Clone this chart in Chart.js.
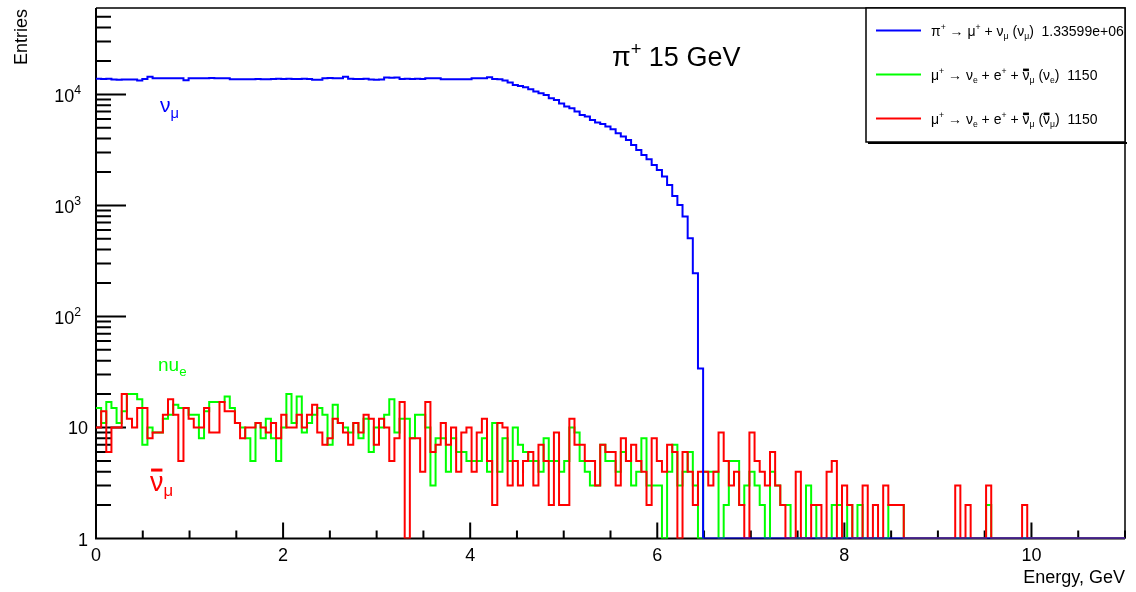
<!DOCTYPE html>
<html>
<head>
<meta charset="utf-8">
<script src="https://cdn.jsdelivr.net/npm/chart.js@4.4.0/dist/chart.umd.min.js"></script>
<style>
  html, body { margin: 0; padding: 0; background: #ffffff; }
  canvas { display: block; }
</style>
</head>
<body>
<canvas id="c" width="1136" height="592"></canvas>
<script>
// Neutrino energy spectra from pi+ (15 GeV) and mu+ decays, 200 bins over 0..11 GeV
const binWidth = 0.055;
const xRange = [0, 11];
const yRange = [1, 60000];

// pi+ -> mu+ + nu_mu : nu_mu entries per bin
const numuEntries = [
  13810, 13760, 13800, 13620, 13580, 13610, 13590, 13640, 13330, 13790,
  14430, 13990, 13960, 14010, 13970, 14000, 13950, 13420, 13980, 14010,
  13960, 13990, 14020, 13970, 13990, 13950, 13710, 13690, 13720, 13680,
  13700, 13730, 13690, 13710, 13780, 13800, 13770, 13810, 13790, 13760,
  13800, 13780, 13520, 13540, 13990, 14020, 13970, 14000, 14440, 13800,
  13780, 13790, 13810, 13600, 13580, 13620, 14180, 14150, 14170, 13790,
  13800, 13770, 13810, 13780, 13990, 13970, 14000, 13700, 13720, 13690,
  13710, 13680, 13700, 13990, 13970, 14000, 14300, 13790, 13704, 13312,
  12773, 12179, 11930, 11612, 11140, 10597, 10252, 9897, 9243, 8923,
  8300, 7763, 7510, 6998, 6535, 6310, 5893, 5570, 5424, 5129,
  4859, 4472, 4167, 3891, 3508, 3162, 2851, 2608, 2317, 2088,
  1818, 1530, 1218, 1010, 793, 506, 245, 34, 0, 0,
  0, 0, 0, 0, 0, 0, 0, 0, 0, 0,
  0, 0, 0, 0, 0, 0, 0, 0, 0, 0,
  0, 0, 0, 0, 0, 0, 0, 0, 0, 0,
  0, 0, 0, 0, 0, 0, 0, 0, 0, 0,
  0, 0, 0, 0, 0, 0, 0, 0, 0, 0,
  0, 0, 0, 0, 0, 0, 0, 0, 0, 0,
  0, 0, 0, 0, 0, 0, 0, 0, 0, 0,
  0, 0, 0, 0, 0, 0, 0, 0, 0, 0
];

// mu+ -> e+ + nu_e + anti-nu_mu : nu_e entries per bin
const nueEntries = [
  15, 11, 17, 15, 11, 14, 20, 20, 18, 7,
  10, 9, 9, 12, 13, 16, 15, 15, 13, 13,
  8, 14, 17, 17, 17, 19, 15, 11, 10, 8,
  5, 11, 8, 12, 8, 5, 10, 20, 11, 19,
  9, 11, 13, 15, 13, 7, 16, 11, 10, 9,
  11, 8, 12, 6, 10, 10, 13, 18, 9, 12,
  12, 8, 13, 13, 10, 3, 8, 8, 4, 8,
  6, 6, 5, 5, 5, 8, 4, 11, 4, 8,
  5, 10, 7, 6, 5, 5, 4, 8, 5, 5,
  4, 5, 10, 9, 5, 4, 3, 3, 7, 5,
  5, 4, 6, 5, 3, 4, 8, 3, 3, 3,
  0, 4, 7, 3, 4, 6, 3, 0, 4, 4,
  4, 0, 2, 5, 5, 2, 3, 4, 3, 2,
  0, 4, 3, 2, 2, 0, 0, 0, 3, 2,
  0, 0, 0, 2, 2, 0, 2, 0, 2, 0,
  0, 0, 0, 0, 2, 2, 2, 0, 0, 0,
  0, 0, 0, 0, 0, 0, 0, 0, 0, 0,
  0, 0, 0, 2, 0, 0, 0, 0, 0, 0,
  0, 0, 0, 0, 0, 0, 0, 0, 0, 0,
  0, 0, 0, 0, 0, 0, 0, 0, 0, 0
];

// mu+ -> e+ + nu_e + anti-nu_mu : anti-nu_mu entries per bin
const numubarEntries = [
  10, 14, 6, 10, 10, 20, 12, 10, 15, 15,
  8, 9, 9, 13, 18, 13, 5, 15, 12, 10,
  10, 15, 9, 9, 17, 14, 14, 11, 8, 10,
  10, 11, 10, 9, 11, 8, 13, 10, 10, 13,
  10, 13, 16, 9, 7, 8, 12, 11, 9, 7,
  11, 9, 13, 12, 7, 12, 10, 5, 8, 17,
  0, 8, 8, 4, 17, 6, 7, 11, 7, 10,
  4, 9, 10, 4, 9, 12, 5, 2, 11, 10,
  3, 5, 3, 5, 6, 3, 7, 5, 2, 9,
  2, 2, 12, 7, 7, 5, 5, 3, 7, 6,
  6, 3, 8, 5, 7, 5, 4, 2, 8, 5,
  4, 7, 6, 0, 6, 4, 2, 4, 4, 3,
  4, 9, 5, 3, 4, 2, 0, 9, 5, 4,
  3, 6, 3, 2, 0, 0, 4, 0, 0, 2,
  2, 0, 4, 5, 0, 3, 2, 0, 0, 3,
  0, 2, 0, 3, 2, 2, 2, 0, 0, 0,
  0, 0, 0, 0, 0, 0, 0, 3, 0, 2,
  0, 0, 0, 3, 0, 0, 0, 0, 0, 0,
  2, 0, 0, 0, 0, 0, 0, 0, 0, 0,
  0, 0, 0, 0, 0, 0, 0, 0, 0, 0
];

// axis ticks and labels
const xMajorTicks = [0, 2, 4, 6, 8, 10];
const xTickLabels = ['0', '2', '4', '6', '8', '10'];
const xMinorStep = 0.5;
const yMajorTicks = [1, 10, 100, 1000, 10000];
const yTickBase = ['1', '10', '10', '10', '10'];
const yTickExp = ['', '', '2', '3', '4'];

const seriesColors = { numu: '#0000ff', nue: '#00ff00', numubar: '#ff0000' };
const FONT = '"Liberation Sans", Arial, Helvetica, sans-serif';

// legend rows: rich-text pieces [text, mode]
const legendRows = [
  { color: seriesColors.numu, parts: [['π'], ['+', 'sup'], [' → μ'], ['+', 'sup'], [' + ν'], ['μ', 'sub'], [' (ν'], ['μ', 'sub'], [')  1.33599e+06']] },
  { color: seriesColors.nue, parts: [['μ'], ['+', 'sup'], [' → ν'], ['e', 'sub'], [' + e'], ['+', 'sup'], [' + '], ['ν', 'bar'], ['μ', 'sub'], [' (ν'], ['e', 'sub'], [')  1150']] },
  { color: seriesColors.numubar, parts: [['μ'], ['+', 'sup'], [' → ν'], ['e', 'sub'], [' + e'], ['+', 'sup'], [' + '], ['ν', 'bar'], ['μ', 'sub'], [' ('], ['ν', 'bar'], ['μ', 'sub'], [')  1150']] }
];

// histogram outline: each bin becomes a flat segment; empty bins sit on the axis floor
function histPoints(vals) {
  const pts = [];
  vals.forEach((v, i) => {
    const y = v > 0 ? v : yRange[0];
    pts.push({ x: xRange[0] + i * binWidth, y });
    pts.push({ x: xRange[0] + (i + 1) * binWidth, y });
  });
  return pts;
}

function richWidth(ctx, parts, size, small) {
  let w = 0;
  for (const [t, m] of parts) {
    const s = (m === 'sup' || m === 'sub') ? size * small : size;
    ctx.font = s + 'px ' + FONT;
    w += ctx.measureText(t).width;
  }
  return w;
}

function drawRich(ctx, parts, x, y, size, color, opts = {}) {
  const small = opts.small || 0.68;
  const align = opts.align || 'left';
  const w = richWidth(ctx, parts, size, small);
  let cx = align === 'right' ? x - w : align === 'center' ? x - w / 2 : x;
  ctx.fillStyle = color;
  ctx.strokeStyle = color;
  ctx.textAlign = 'left';
  ctx.textBaseline = 'alphabetic';
  for (const [t, m] of parts) {
    const isSmall = (m === 'sup' || m === 'sub');
    const s = isSmall ? size * small : size;
    ctx.font = s + 'px ' + FONT;
    const dy = m === 'sup' ? -size * (opts.supRise || 0.42) : m === 'sub' ? size * (opts.subDrop || 0.24) : 0;
    ctx.fillText(t, cx, y + dy);
    const tw = ctx.measureText(t).width;
    if (m === 'bar') {
      const by = y - s * (opts.barRise || 0.66);
      ctx.fillRect(cx + s * 0.04, by - (opts.barThick || 2), tw - s * 0.08, opts.barThick || 2);
    }
    cx += tw;
  }
}

const rootStyle = {
  id: 'rootStyle',
  beforeDatasetsDraw(chart) {
    const { ctx, chartArea: a, scales: { x, y } } = chart;
    ctx.save();
    ctx.strokeStyle = '#000';
    ctx.lineWidth = 2;
    ctx.beginPath();
    // x ticks point up from the bottom axis
    for (let v = xRange[0]; v <= xRange[1] + 1e-9; v += xMinorStep) {
      const px = x.getPixelForValue(v);
      const major = xMajorTicks.some(t => Math.abs(t - v) < 1e-9);
      ctx.moveTo(px, a.bottom);
      ctx.lineTo(px, a.bottom - (major ? 16 : 8));
    }
    // y ticks point right from the left axis (decades long, 2..9 short)
    yMajorTicks.forEach(d => {
      const py = y.getPixelForValue(d);
      if (d > yRange[0]) { ctx.moveTo(a.left, py); ctx.lineTo(a.left + 30, py); }
      for (let m = 2; m <= 9; m++) {
        const v = d * m;
        if (v >= yRange[1]) break;
        const pm = y.getPixelForValue(v);
        ctx.moveTo(a.left, pm);
        ctx.lineTo(a.left + 15, pm);
      }
    });
    ctx.stroke();
    // frame
    ctx.lineWidth = 2;
    ctx.beginPath();
    ctx.moveTo(a.left, a.top); ctx.lineTo(a.left, a.bottom); ctx.lineTo(a.right, a.bottom);
    ctx.stroke();
    ctx.lineWidth = 1.5;
    ctx.beginPath();
    ctx.moveTo(a.left, a.top); ctx.lineTo(a.right, a.top); ctx.lineTo(a.right, a.bottom);
    ctx.stroke();
    ctx.restore();
  },
  afterDraw(chart) {
    const { ctx, chartArea: a, scales: { x, y } } = chart;
    ctx.save();
    ctx.fillStyle = '#000';
    // x tick labels
    ctx.font = '18px ' + FONT;
    ctx.textAlign = 'center';
    ctx.textBaseline = 'alphabetic';
    xMajorTicks.forEach((v, i) => ctx.fillText(xTickLabels[i], x.getPixelForValue(v), 561));
    // y tick labels
    yMajorTicks.forEach((v, i) => {
      const py = y.getPixelForValue(v);
      if (yTickExp[i]) {
        drawRich(ctx, [[yTickBase[i]], [yTickExp[i], 'sup']], 81, py + 8, 18, '#000', { align: 'right', small: 0.68, supRise: 0.45 });
      } else {
        drawRich(ctx, [[yTickBase[i]]], 88, py + 7, 18, '#000', { align: 'right' });
      }
    });
    // axis titles
    ctx.fillStyle = '#000';
    ctx.font = '18px ' + FONT;
    ctx.textAlign = 'right';
    ctx.fillText('Energy, GeV', a.right, 583);
    ctx.save();
    ctx.translate(27, 9);
    ctx.rotate(-Math.PI / 2);
    ctx.textAlign = 'right';
    ctx.fillText('Entries', 0, 0);
    ctx.restore();

    // title
    drawRich(ctx, [['π'], ['+', 'sup'], [' 15 GeV']], 612, 66, 27, '#000', { small: 0.68, supRise: 0.4 });

    // curve labels
    drawRich(ctx, [['ν'], ['μ', 'sub']], 160, 112, 21, seriesColors.numu, { small: 0.7, subDrop: 0.3 });
    drawRich(ctx, [['nu'], ['e', 'sub']], 158, 371, 19, seriesColors.nue, { small: 0.7, subDrop: 0.28 });
    drawRich(ctx, [['ν', 'bar'], ['μ', 'sub']], 150, 491, 27, seriesColors.numubar, { small: 0.62, subDrop: 0.2, barRise: 0.72, barThick: 3 });

    // legend box with shadow
    const lx = 866, ly = 8, lw = 259, lh = 134;
    ctx.fillStyle = '#000';
    ctx.fillRect(lx + 2, ly + lh, lw, 2);
    ctx.fillStyle = '#fff';
    ctx.fillRect(lx, ly, lw, lh);
    ctx.strokeStyle = '#000';
    ctx.lineWidth = 1.5;
    ctx.strokeRect(lx, ly, lw, lh);
    ctx.save();
    ctx.beginPath();
    ctx.rect(lx, ly - 2, 1127 - lx, lh + 8);
    ctx.clip();
    legendRows.forEach((row, i) => {
      const cy = 30.5 + i * 44;
      ctx.strokeStyle = row.color;
      ctx.lineWidth = 2;
      ctx.beginPath();
      ctx.moveTo(876, cy);
      ctx.lineTo(921, cy);
      ctx.stroke();
      drawRich(ctx, row.parts, 931, cy + 5, 14, '#000', { small: 0.62, supRise: 0.4, subDrop: 0.25, barRise: 0.6, barThick: 2.5 });
    });
    ctx.restore();
    ctx.restore();
  }
};

new Chart(document.getElementById('c'), {
  type: 'line',
  data: {
    datasets: [
      { label: 'numu', data: histPoints(numuEntries), borderColor: seriesColors.numu, order: 0 },
      { label: 'numubar', data: histPoints(numubarEntries), borderColor: seriesColors.numubar, order: 1 },
      { label: 'nue', data: histPoints(nueEntries), borderColor: seriesColors.nue, order: 2 }
    ]
  },
  options: {
    responsive: false,
    animation: false,
    devicePixelRatio: 1,
    layout: { padding: { left: 96, right: 11, top: 8, bottom: 53.5 } },
    elements: {
      point: { radius: 0, hoverRadius: 0 },
      line: { borderWidth: 2, tension: 0, fill: false, borderJoinStyle: 'miter', borderCapStyle: 'butt' }
    },
    scales: {
      x: { type: 'linear', min: xRange[0], max: xRange[1], display: false },
      y: { type: 'logarithmic', min: yRange[0], max: yRange[1], display: false }
    },
    plugins: { legend: { display: false }, tooltip: { enabled: false } },
    events: []
  },
  plugins: [rootStyle]
});
</script>
</body>
</html>
